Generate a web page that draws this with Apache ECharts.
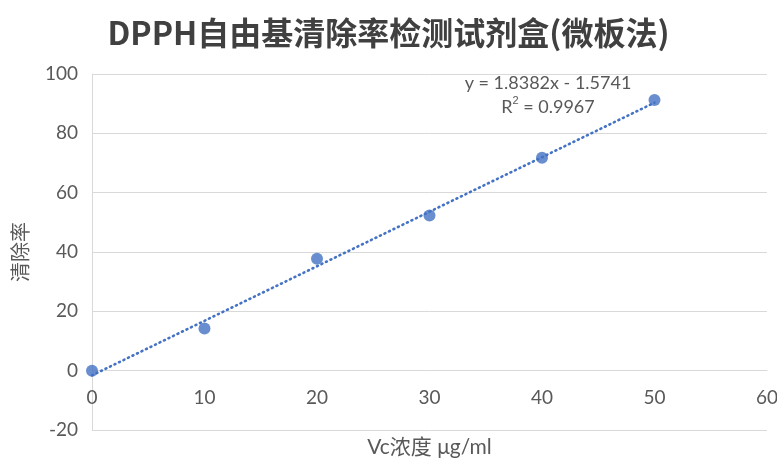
<!DOCTYPE html>
<html>
<head>
<meta charset="utf-8">
<script src="https://cdn.jsdelivr.net/npm/echarts@6/dist/echarts.min.js"></script>
<style>
html,body{margin:0;padding:0;background:#fff;}
#chart{width:777px;height:459px;}
</style>
</head>
<body>
<div id="chart"></div>
<script>
const titleText = 'DPPH自由基清除率检测试剂盒(微板法)';
const xName = 'Vc浓度 μg/ml';
const yName = '清除率';
const concentrations = [0, 10, 20, 30, 40, 50];
const scavengingRate = [0, 14.2, 37.7, 52.3, 71.8, 91.2];
const trendSlope = 1.8382;
const trendIntercept = -1.5741;
const trendRange = [0, 50];
const yMin = -20, yMax = 100, yStep = 20;
const xMin = 0, xMax = 60, xStep = 10;
const equationLines = ['y = 1.8382x - 1.5741', 'R{sup|2} = 0.9967'];

const points = concentrations.map((x, i) => [x, scavengingRate[i]]);
const trendPoints = trendRange.map(x => [x, trendSlope * x + trendIntercept]);

const latin = "Lato, 'Noto Sans CJK SC', sans-serif";
const cjk = "'Noto Sans CJK SC', sans-serif";
const gray = '#595959';
const gridGray = '#d9d9d9';
const blue = '#4472C4';

const chart = echarts.init(document.getElementById('chart'), null, {renderer: 'canvas'});
chart.setOption({
  animation: false,
  backgroundColor: '#fff',
  title: {
    text: titleText,
    left: 'center',
    top: 12,
    textStyle: {fontFamily: cjk, fontSize: 32, fontWeight: 'bold', color: '#404040'}
  },
  grid: {left: 92, right: 10, top: 74, bottom: 29, containLabel: false, outerBoundsMode: 'none'},
  xAxis: {
    type: 'value', min: xMin, max: xMax, interval: xStep,
    name: xName, nameLocation: 'middle', nameGap: 66,
    nameTextStyle: {fontFamily: latin, fontSize: 21, color: gray},
    axisLine: {show: true, onZero: true, onZeroAxisIndex: 0, lineStyle: {color: gridGray, width: 1}},
    axisTick: {show: false},
    splitLine: {show: false},
    axisLabel: {fontFamily: latin, fontSize: 19, color: gray, margin: 18}
  },
  yAxis: {
    type: 'value', min: yMin, max: yMax, interval: yStep,
    name: yName, nameLocation: 'middle', nameGap: 62, nameRotate: 90,
    nameTextStyle: {fontFamily: cjk, fontSize: 20, color: gray},
    axisLine: {show: true, onZero: false, lineStyle: {color: gridGray, width: 1}},
    axisTick: {show: false},
    splitLine: {show: true, lineStyle: {color: gridGray, width: 1}},
    axisLabel: {fontFamily: latin, fontSize: 19, color: gray, margin: 14}
  },
  series: [
    {
      type: 'line', data: trendPoints, symbol: 'none', silent: true, z: 1,
      lineStyle: {color: blue, width: 2.6, type: [1, 4], cap: 'round'}
    },
    {
      type: 'scatter', data: points, symbol: 'circle', symbolSize: 12, z: 2,
      itemStyle: {color: blue}
    }
  ],
  graphic: [
    {
      type: 'text', x: 548, y: 71, z: 10,
      style: {
        text: equationLines.join('\n'),
        fontFamily: latin, fontSize: 18, fill: gray, align: 'center', lineHeight: 24,
        rich: {sup: {fontSize: 11, verticalAlign: 'top', lineHeight: 14, fill: gray}}
      }
    }
  ]
});

// Place the x axis on the y = 0 line (Excel style), using the library's own y scale.
const pxZero = chart.convertToPixel({yAxisIndex: 0}, 0);
const pxBottom = chart.convertToPixel({yAxisIndex: 0}, yMin);
const xAxisModelOnZero = Math.abs(pxZero - pxBottom) < 1;
chart.setOption({
  xAxis: {axisLine: {onZero: false}, offset: -(pxBottom - pxZero)}
});
</script>
</body>
</html>
